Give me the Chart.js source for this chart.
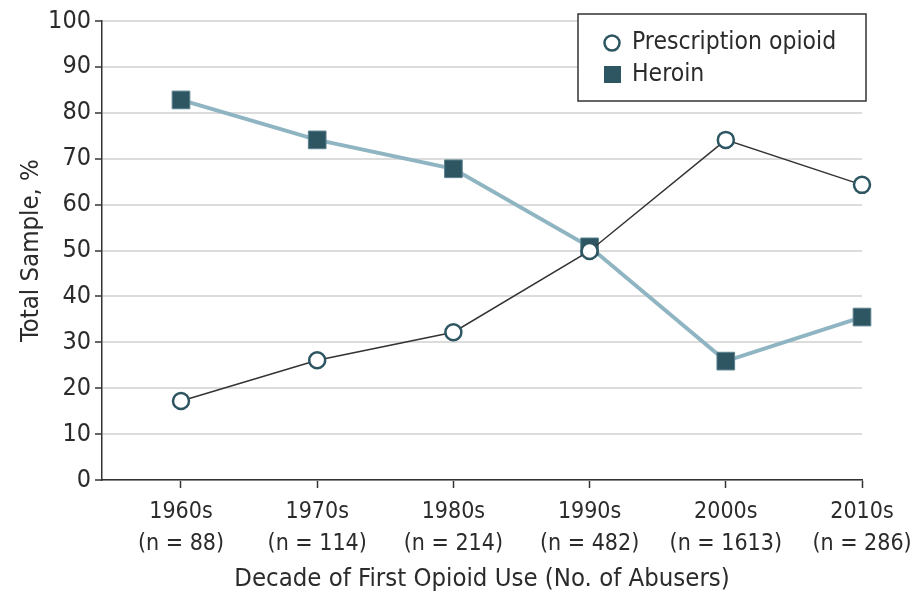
<!DOCTYPE html>
<html><head><meta charset="utf-8">
<script src="https://cdn.jsdelivr.net/npm/chart.js@4"></script>
<style>html,body{margin:0;padding:0;background:#fff}#wrap{width:912px;height:597px}</style>
</head><body><div id="wrap"><canvas id="c" width="912" height="597"></canvas></div>
<script>
const decades = ["1960s","1970s","1980s","1990s","2000s","2010s"];
const sampleSizes = ["(n = 88)","(n = 114)","(n = 214)","(n = 482)","(n = 1613)","(n = 286)"];
const prescription = [17.2, 26.1, 32.2, 49.9, 74.1, 64.3];
const heroin = [82.8, 74.1, 67.8, 50.8, 25.9, 35.5];
const yTicks = [0,10,20,30,40,50,60,70,80,90,100];

const FONT = '"Liberation Sans Narrow","DejaVu Sans Condensed","Open Sans",sans-serif';
const TXT = '#2b2b2b';
const DARK = '#2e5562';

const legendPlugin = {
  id: 'boxLegend',
  afterDraw(chart) {
    const ctx = chart.ctx;
    ctx.save();
    const x = 578, y = 14, w = 288, h = 87;
    ctx.fillStyle = '#fff';
    ctx.fillRect(x, y, w, h);
    ctx.strokeStyle = '#333';
    ctx.lineWidth = 1.5;
    ctx.strokeRect(x, y, w, h);
    const ds = chart.data.datasets;
    ctx.font = '24.5px ' + FONT;
    ctx.textBaseline = 'middle';
    ctx.fillStyle = TXT;
    ctx.beginPath();
    ctx.arc(612, 43, 7.5, 0, Math.PI*2);
    ctx.fillStyle = '#fff'; ctx.fill();
    ctx.strokeStyle = DARK; ctx.lineWidth = 2.5; ctx.stroke();
    ctx.fillStyle = TXT;
    ctx.fillText(ds[0].label, 632, 43);
    ctx.fillStyle = DARK;
    ctx.fillRect(604, 66, 17, 17);
    ctx.fillStyle = TXT;
    ctx.fillText(ds[1].label, 632, 75);
    ctx.restore();
  }
};

new Chart(document.getElementById('c'), {
  type: 'line',
  data: {
    datasets: [
      {
        label: 'Prescription opioid',
        data: prescription.map((v,i)=>({x:i,y:v})),
        borderColor: '#333',
        borderWidth: 1.5,
        pointStyle: 'circle',
        pointRadius: 8,
        pointBorderWidth: 2.5,
        pointBackgroundColor: '#fff',
        pointBorderColor: DARK,
        tension: 0,
        clip: false
      },
      {
        label: 'Heroin',
        data: heroin.map((v,i)=>({x:i,y:v})),
        borderColor: '#8fb4c2',
        borderWidth: 4,
        pointStyle: 'rect',
        pointRadius: 12.5,
        pointBorderWidth: 1,
        pointBackgroundColor: DARK,
        pointBorderColor: '#5d8290',
        tension: 0,
        clip: false
      }
    ]
  },
  options: {
    responsive: false,
    animation: false,
    devicePixelRatio: 1,
    layout: { padding: { left: 16, right: 50, top: 21, bottom: 2 } },
    plugins: { legend: { display: false }, tooltip: { enabled: false } },
    scales: {
      x: {
        type: 'linear',
        min: -0.58,
        max: 5,
        afterBuildTicks(scale) { scale.ticks = decades.map((d,i)=>({value:i})); },
        afterFit(scale) { scale.height = 115; scale.paddingRight = 0; scale.paddingLeft = 0; },
        ticks: {
          autoSkip: false,
          maxRotation: 0,
          color: TXT,
          font: { family: FONT, size: 23, lineHeight: 1.4 },
          padding: 8,
          callback: (v) => [decades[v], sampleSizes[v]]
        },
        grid: { drawOnChartArea: false, tickLength: 8, tickColor: '#333', tickWidth: 1.5 },
        border: { color: '#333', width: 1.5 },
        title: { display: true, text: 'Decade of First Opioid Use (No. of Abusers)', color: TXT, font: { family: FONT, size: 25.5 }, padding: { top: 2, bottom: 0 } }
      },
      y: {
        min: 0,
        max: 100,
        afterBuildTicks(scale) { scale.ticks = yTicks.map(v=>({value:v})); },
        afterFit(scale) { scale.width = 86; },
        ticks: { color: TXT, font: { family: FONT, size: 25 }, padding: 4 },
        grid: { color: '#dcdcdc', lineWidth: 2, tickLength: 7, tickColor: '#333', tickWidth: 1.5 },
        border: { color: '#333', width: 1.5 },
        title: { display: true, text: 'Total Sample, %', color: TXT, font: { family: FONT, size: 25.5 }, padding: { top: 0, bottom: 4 } }
      }
    }
  },
  plugins: [legendPlugin]
});
</script>
</body></html>
